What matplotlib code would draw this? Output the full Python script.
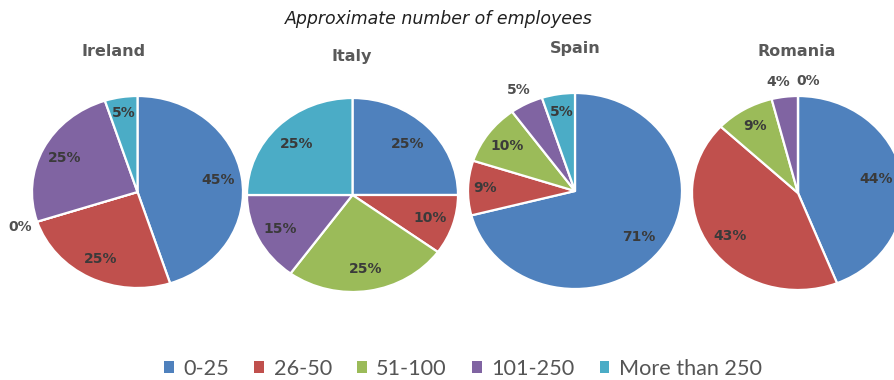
import matplotlib
matplotlib.use("Agg")
import matplotlib.pyplot as plt
from matplotlib.patches import Patch
import numpy as np

# Share of companies by size band, per country (percent)
categories = ["0-25", "26-50", "51-100", "101-250", "More than 250"]
countries = ["Ireland", "Italy", "Spain", "Romania"]
ireland = [45, 25, 0, 25, 5]
italy = [25, 10, 25, 15, 25]
spain = [71, 9, 10, 5, 5]
romania = [44, 43, 9, 4, 0]
values = [ireland, italy, spain, romania]

colors = ["#4F81BD", "#C0504D", "#9BBB59", "#8064A2", "#4BACC6"]
title_color = "#595959"
label_color = "#3a3a3a"

W, H = 894, 380
fig = plt.figure(figsize=(W / 100, H / 100), dpi=100)
fig.patch.set_facecolor("white")

# pie boxes in pixels: left, top, width, height
boxes = [(32, 96, 211, 192), (247, 98, 211, 194), (468, 93, 214, 196), (692, 96, 212, 194)]
# country title anchor in pixels (centre x, centre y)
title_pos = [(114, 52), (352, 57), (575, 49), (797, 52)]
# label radius for each slice (inside ~0.77, outside ~1.16)
label_r = [
    [0.77, 0.78, 1.17, 0.78, 0.83],
    [0.74, 0.77, 0.77, 0.77, 0.75],
    [0.76, 0.84, 0.78, 1.16, 0.82],
    [0.75, 0.78, 0.80, 1.15, 1.15],
]
# small horizontal nudges for crowded outside labels
label_dx = [
    [0, 0, 0, 0, 0],
    [0, 0, 0, 0, 0],
    [0, 0, 0, 0, 0],
    [0, 0, 0, -0.04, 0.1],
]

for i, (name, vals) in enumerate(zip(countries, values)):
    l, t, w, h = boxes[i]
    ax = fig.add_axes([l / W, (H - t - h) / H, w / W, h / H])
    wedges, _ = ax.pie(vals, colors=colors, startangle=90, counterclock=False,
                       radius=1.0,
                       wedgeprops=dict(edgecolor="white", linewidth=1.6))
    ax.set_aspect("auto")
    ax.set_xlim(-1, 1)
    ax.set_ylim(-1, 1)
    ax.axis("off")
    total = sum(vals)
    start = 90.0
    for j, v in enumerate(vals):
        sweep = 360.0 * v / total
        mid = np.deg2rad(start - sweep / 2)
        r = label_r[i][j]
        x = r * np.cos(mid) + label_dx[i][j]
        y = r * np.sin(mid)
        ax.text(x, y, f"{v}%", ha="center", va="center", fontsize=10,
                fontweight="bold", color=label_color if r < 1 else "#505050",
                clip_on=False)
        start -= sweep
    tx, ty = title_pos[i]
    fig.text(tx / W, 1 - ty / H, name, ha="center", va="center",
             fontsize=11.5, fontweight="bold", color=title_color)

fig.text(439 / W, 1 - 19 / H, "Approximate number of employees", ha="center",
         va="center", fontsize=12.5, style="italic", color="#202020")

handles = [Patch(facecolor=c, edgecolor="none") for c in colors]
fig.legend(handles, categories, loc="center", bbox_to_anchor=(463 / W, 1 - 369 / H),
           ncol=5, frameon=False, labelcolor="#555555",
           prop={"family": "Lato", "size": 15.6},
           handlelength=0.45, handleheight=0.45, handletextpad=0.45,
           columnspacing=1.15)

fig.savefig("out.png", dpi=100, facecolor="white")
